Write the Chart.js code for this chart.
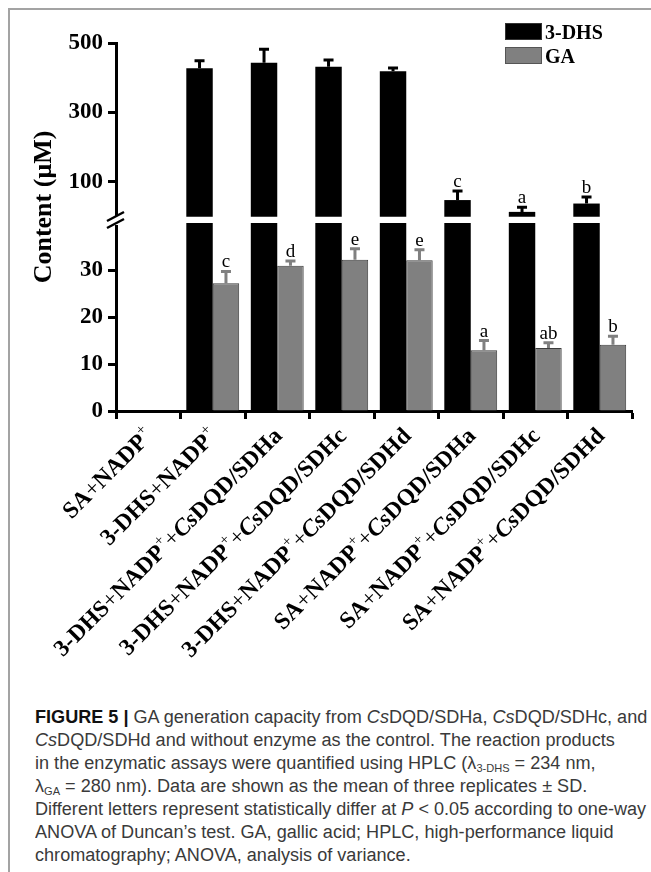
<!DOCTYPE html>
<html>
<head>
<meta charset="utf-8">
<script src="https://cdn.jsdelivr.net/npm/chart.js@4.4.1/dist/chart.umd.min.js"></script>
<style>
  html, body { margin: 0; padding: 0; background: #fff; }
  body { width: 651px; height: 872px; position: relative; overflow: hidden; }
  .frame { position: absolute; left: 8px; top: 8px; width: 700px; height: 900px;
           border-left: 2px solid #a3a3a3; border-top: 2px solid #a3a3a3; }
  #wrap { position: absolute; left: 0; top: 0; width: 651px; height: 700px; }
  .lg { position: absolute; left: 505px; height: 17px; font: bold 20px 'Liberation Serif', serif;
        line-height: 17px; white-space: nowrap; }
  .lg .box { position: absolute; left: 0; top: 0; width: 35px; height: 15px; border: 1px solid #555; }
  .lg .txt { position: absolute; left: 40px; top: 1px; }
  .caption { position: absolute; left: 35px; top: 706px; font: 18px 'Liberation Sans', Arial, sans-serif;
             color: #3a3a3a; line-height: 23px; transform-origin: 0 0; white-space: nowrap; }
  .caption b { color: #111; }
  .caption sub { font-size: 11px; vertical-align: -3px; line-height: 0; }
</style>
</head>
<body>
<div class="frame"></div>
<div id="wrap"><canvas id="chart" width="651" height="700"></canvas></div>
<div class="lg" style="top:23px"><span class="box" style="background:#000;border-color:#333"></span><span class="txt">3-DHS</span></div>
<div class="lg" style="top:47px"><span class="box" style="background:#808080"></span><span class="txt">GA</span></div>
<div class="caption" id="caption">
  <div id="capLine1"><b>FIGURE 5 |</b> GA generation capacity from <i>Cs</i>DQD/SDHa, <i>Cs</i>DQD/SDHc, and</div>
  <div><i>Cs</i>DQD/SDHd and without enzyme as the control. The reaction products</div>
  <div>in the enzymatic assays were quantified using HPLC (λ<sub>3-DHS</sub> = 234 nm,</div>
  <div>λ<sub>GA</sub> = 280 nm). Data are shown as the mean of three replicates ± SD.</div>
  <div>Different letters represent statistically differ at <i>P</i> &lt; 0.05 according to one-way</div>
  <div>ANOVA of Duncan’s test. GA, gallic acid; HPLC, high-performance liquid</div>
  <div>chromatography; ANOVA, analysis of variance.</div>
</div>
<script>
const SERIF = "'Liberation Serif', 'Times New Roman', serif";

const categories = [
  'SA+NADP⁺',
  '3-DHS+NADP⁺',
  '3-DHS+NADP⁺+CsDQD/SDHa',
  '3-DHS+NADP⁺+CsDQD/SDHc',
  '3-DHS+NADP⁺+CsDQD/SDHd',
  'SA+NADP⁺+CsDQD/SDHa',
  'SA+NADP⁺+CsDQD/SDHc',
  'SA+NADP⁺+CsDQD/SDHd'
];

// 3-DHS (upper segment of the broken axis)
const dhs = [0, 427, 443, 432, 419, 48, 14, 38];
const dhsSd = [0, 22, 39, 19, 9, 26, 13, 19];
const dhsLetters = ['', '', '', '', '', 'c', 'a', 'b'];

// GA (lower segment)
const ga = [0, 27.2, 30.9, 32.2, 32.1, 12.9, 13.4, 14.1];
const gaSd = [0, 2.5, 1.0, 2.3, 2.2, 2.1, 1.1, 1.8];
const gaLetters = ['', 'c', 'd', 'e', 'e', 'a', 'ab', 'b'];

const lowTicks = [0, 10, 20, 30];
const highTicks = [100, 300, 500];
const LOW_MAX = 40;

// bars that reach the upper segment fill the whole lower segment
const dhsLow = dhs.map(v => (v > 0 ? LOW_MAX : 0));

function yAxis(ticks, weight, min, max) {
  return {
    type: 'linear', position: 'left', stack: 'y', stackWeight: weight,
    min: min, max: max, stacked: false,
    afterBuildTicks: s => { s.ticks = ticks.map(v => ({ value: v })); },
    afterFit: s => { s.width = 116; },
    border: { display: true, color: '#000', width: 3 },
    grid: { display: true, drawOnChartArea: false, drawTicks: true, tickLength: 8,
            tickWidth: 3, tickColor: '#000' },
    ticks: { color: '#000', padding: 5, font: { family: SERIF, size: 23, weight: 'bold' } }
  };
}

function drawErrors(chart, dsIndex, sds, letters, color) {
  const ctx = chart.ctx;
  const meta = chart.getDatasetMeta(dsIndex);
  const scale = chart.scales[meta.yAxisID];
  const values = chart.data.datasets[dsIndex].data;
  ctx.save();
  ctx.strokeStyle = color;
  ctx.lineWidth = 3;
  ctx.fillStyle = '#000';
  ctx.font = '19px ' + SERIF;
  ctx.textAlign = 'center';
  ctx.textBaseline = 'alphabetic';
  meta.data.forEach((bar, i) => {
    if (!values[i]) return;
    const top = scale.getPixelForValue(values[i] + sds[i]);
    ctx.beginPath();
    ctx.moveTo(bar.x, bar.y);
    ctx.lineTo(bar.x, top);
    ctx.moveTo(bar.x - 5, top);
    ctx.lineTo(bar.x + 5, top);
    ctx.stroke();
    if (letters[i]) ctx.fillText(letters[i], bar.x, top - 4);
  });
  ctx.restore();
}

function drawXLabels(chart) {
  const ctx = chart.ctx;
  const xs = chart.scales.x;
  const base = chart.chartArea.bottom;
  const fonts = {
    bold: 'bold 23.5px ' + SERIF,
    plus: '23.5px ' + SERIF,
    sup: '15px ' + SERIF,
    ital: 'italic bold 23.5px ' + SERIF
  };
  categories.forEach((label, i) => {
    const parts = label.split(/(Cs|\+|⁺)/).filter(p => p);
    const segs = parts.map(p => {
      if (p === '⁺') return { t: '+', f: fonts.sup, dy: -10 };
      if (p === '+') return { t: '+', f: fonts.plus, dy: 0 };
      if (p === 'Cs') return { t: 'Cs', f: fonts.ital, dy: 0 };
      return { t: p, f: fonts.bold, dy: 0 };
    });
    let total = 0;
    segs.forEach(s => { ctx.font = s.f; s.w = ctx.measureText(s.t).width; total += s.w; });
    ctx.save();
    ctx.translate(xs.getPixelForValue(i) + 6, base + 26);
    ctx.rotate(-Math.PI / 4);
    ctx.fillStyle = '#000';
    ctx.textBaseline = 'alphabetic';
    let x = -total;
    segs.forEach(s => { ctx.font = s.f; ctx.fillText(s.t, x, s.dy); x += s.w; });
    ctx.restore();
  });
}

const figureMarks = {
  id: 'figureMarks',
  afterDraw(chart) {
    const ctx = chart.ctx;
    drawErrors(chart, 0, dhsSd, dhsLetters, '#000');
    drawErrors(chart, 2, gaSd, gaLetters, '#808080');
    drawXLabels(chart);

    // axis break
    const ax = chart.chartArea.left;
    ctx.save();
    ctx.fillStyle = '#fff';
    ctx.fillRect(ax - 3, 216, 7, 9);
    ctx.strokeStyle = '#000';
    ctx.lineWidth = 2.5;
    ctx.beginPath();
    ctx.moveTo(ax - 9, 221); ctx.lineTo(ax + 8, 212);
    ctx.moveTo(ax - 9, 228); ctx.lineTo(ax + 8, 219);
    ctx.stroke();

    // y title
    ctx.translate(44, 207);
    ctx.rotate(-Math.PI / 2);
    ctx.font = 'bold 26px ' + SERIF;
    ctx.fillStyle = '#000';
    ctx.textAlign = 'center';
    ctx.textBaseline = 'middle';
    ctx.fillText('Content (μM)', 0, 0);
    ctx.restore();
  }
};

new Chart(document.getElementById('chart'), {
  type: 'bar',
  data: {
    labels: categories,
    datasets: [
      { label: '3-DHS', data: dhs, yAxisID: 'yHigh', stack: 'dhs',
        backgroundColor: '#000', borderColor: '#000', borderWidth: 0 },
      { label: '3-DHS', data: dhsLow, yAxisID: 'yLow', stack: 'dhs',
        backgroundColor: '#000', borderColor: '#000', borderWidth: 0 },
      { label: 'GA', data: ga, yAxisID: 'yLow', stack: 'ga',
        backgroundColor: '#808080', borderColor: '#3c3c3c', borderWidth: 1 }
    ]
  },
  options: {
    responsive: false,
    animation: false,
    events: [],
    categoryPercentage: 0.82,
    barPercentage: 1.0,
    layout: { padding: { top: 43, right: 19, left: 0, bottom: 0 } },
    plugins: { legend: { display: false }, tooltip: { enabled: false } },
    scales: {
      x: {
        offset: true,
        afterFit: s => { s.height = 289; },
        border: { display: true, color: '#000', width: 3 },
        grid: { display: true, offset: true, drawOnChartArea: false, drawTicks: true,
                tickLength: 8, tickWidth: 3, tickColor: '#000' },
        ticks: { display: false }
      },
      yLow: yAxis(lowTicks, 188, 0, LOW_MAX),
      yHigh: yAxis(highTicks, 180, -18, 500)
    }
  },
  plugins: [figureMarks]
});

// squeeze caption to the width of the original column
const line1 = document.getElementById('capLine1');
const w = line1.scrollWidth;
document.getElementById('caption').style.transform = 'scaleX(' + (612 / w) + ')';
</script>
</body>
</html>
